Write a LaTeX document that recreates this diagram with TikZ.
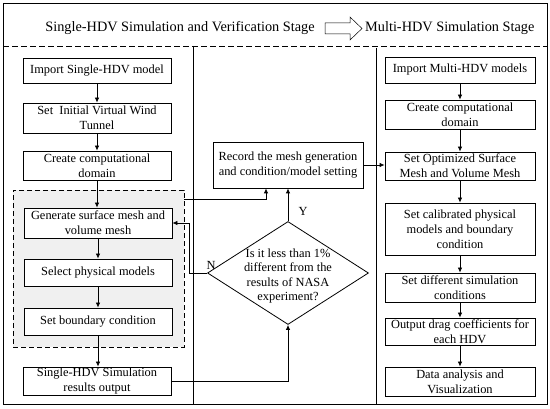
\documentclass[tikz,border=0pt]{standalone}
\usepackage{fontspec}
\setmainfont{Liberation Serif}
\usetikzlibrary{arrows.meta,shapes.geometric}
\begin{document}
\begin{tikzpicture}[x=1pt,y=-1pt,
  box/.style={draw=black, line width=0.8pt, fill=white, align=center, inner sep=0pt,
    font=\fontsize{12.4}{15}\selectfont},
  lbox/.style={box, minimum width=148pt},
  rbox/.style={box, minimum width=150pt},
  arr/.style={-{Latex[length=5pt,width=4.5pt]}, line width=0.8pt},
  frame/.style={line width=0.8pt},
  hdr/.style={font=\fontsize{14.3}{16}\selectfont, inner sep=0pt}]
\useasboundingbox (0,0) rectangle (550,409);
% frame
\draw[frame] (3,3) rectangle (547,404);
\draw[frame, dashed, dash pattern=on 6pt off 3pt] (3,46) -- (547,46);
\draw[frame] (193,46) -- (193,404);
\draw[frame] (376,48) -- (376,404);
% header
\node[hdr] (t1) at (180,28) {Single-HDV Simulation and Verification Stage};
\node[hdr, anchor=west] (t2) at (365,28) {Multi-HDV Simulation Stage};
\draw[line width=0.5pt, fill=white] (325,23) -- (350,23) -- (350,17) -- (362,28.5) -- (350,40) -- (350,34) -- (325,34) -- cycle;
% grey group
\node[draw=black, dashed, dash pattern=on 5pt off 3pt, line width=0.8pt, fill=black!6,
  minimum width=171pt, minimum height=157pt, inner sep=0pt] (grp) at (98.5,268.5) {};
% left column
\node[lbox, minimum height=25pt] (l1) at (97,70.5) {Import Single-HDV model};
\node[lbox, minimum height=30pt] (l2) at (97,118) {Set\ \ Initial Virtual Wind\\Tunnel};
\node[lbox, minimum height=29pt] (l3) at (97,165.5) {Create computational\\domain};
\node[lbox, minimum height=30pt] (l4) at (98,223) {Generate surface mesh and\\volume mesh};
\node[lbox, minimum height=27pt] (l5) at (98,272.5) {Select physical models};
\node[lbox, minimum height=27pt] (l6) at (98,321.5) {Set boundary condition};
\node[lbox, minimum height=28pt] (l7) at (97,381) {Single-HDV Simulation\\results output};
% middle
\node[box, minimum width=150pt, minimum height=46pt] (rec) at (288,165) {Record the mesh generation\\and condition/model setting};
\node[draw=black, line width=0.8pt, diamond, fill=white, minimum width=161pt, minimum height=103pt, inner sep=0pt] (dia) at (288,273) {};
\node[align=center, inner sep=0pt, font=\fontsize{12.4}{14.5}\selectfont] (diat) at (288,276) {Is it less than 1\%\\different from the\\results of NASA\\experiment?};
\node[inner sep=0pt, font=\fontsize{12.4}{14}\selectfont] (ylab) at (303,211) {Y};
\node[inner sep=0pt, font=\fontsize{12.4}{14}\selectfont] (nlab) at (211,265) {N};
% right column
\node[rbox, minimum height=26pt] (r1) at (460,70) {Import Multi-HDV models};
\node[rbox, minimum height=29pt] (r2) at (460,114.5) {Create computational\\domain};
\node[rbox, minimum height=28pt] (r3) at (460,166) {Set Optimized Surface\\Mesh and Volume Mesh};
\node[rbox, minimum height=52pt] (r4) at (460,229) {Set calibrated physical\\models and boundary\\condition};
\node[rbox, minimum height=29pt] (r5) at (460,287.5) {Set different simulation\\conditions};
\node[rbox, minimum height=27pt] (r6) at (460,331.5) {Output drag coefficients for\\each HDV};
\node[rbox, minimum height=29pt] (r7) at (460,381.5) {Data analysis and\\Visualization};
% connectors left
\draw[arr] (l1) -- (l2);
\draw[arr] (l2) -- (l3);
\draw[arr] (l3.south) -- (l3.south |- l4.north);
\draw[arr] (l4.south) -- (l4.south |- l5.north);
\draw[arr] (l5) -- (l6);
\draw[arr] (l6.south) -- (l6.south |- l7.north);
% middle connectors
\coordinate (gout) at ([yshift=-10pt]grp.north east);
\draw[arr] (gout) -| ([xshift=-22pt]rec.south);
\draw[arr] (dia.north) -- (rec.south);
\draw[arr] (dia.west) -- ++(-18,0) |- (l4.east);
\draw[arr] (l7.east) -| (dia.south);
\draw[arr] (rec.east) -- (rec.east -| r3.west);
% right connectors
\draw[arr] (r1) -- (r2);
\draw[arr] (r2) -- (r3);
\draw[arr] (r3) -- (r4);
\draw[arr] (r4) -- (r5);
\draw[arr] (r5) -- (r6);
\draw[arr] (r6) -- (r7);
\end{tikzpicture}
\end{document}
